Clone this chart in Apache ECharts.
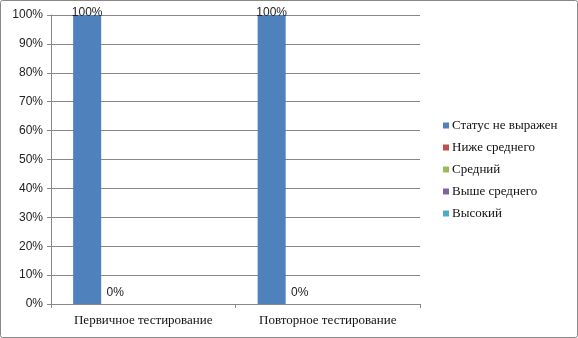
<!DOCTYPE html>
<html>
<head>
<meta charset="utf-8">
<script src="https://cdn.jsdelivr.net/npm/echarts@6/dist/echarts.min.js"></script>
<style>
html, body { margin: 0; padding: 0; background: #fff; }
#chart { width: 578px; height: 338px; }
</style>
</head>
<body>
<div id="chart"></div>
<script>
var categories = ['Первичное тестирование', 'Повторное тестирование'];
var seriesNames = ['Статус не выражен', 'Ниже среднего', 'Средний', 'Выше среднего', 'Высокий'];
var seriesColors = ['#4F81BD', '#C0504D', '#9BBB59', '#8064A2', '#4BACC6'];
var valStatus = [100, 100];
var valBelow = [0, 0];
var valMiddle = [0, 0];
var valAbove = [0, 0];
var valHigh = [0, 0];
var seriesValues = [valStatus, valBelow, valMiddle, valAbove, valHigh];
var showLabels = [true, true, false, false, false];

var chart = echarts.init(document.getElementById('chart'), null, { renderer: 'canvas' });

var series = seriesNames.map(function (name, i) {
    return {
        name: name,
        type: 'bar',
        data: seriesValues[i],
        barGap: '0%',
        barCategoryGap: '24%',
        itemStyle: { color: seriesColors[i] },
        label: {
            show: showLabels[i],
            position: 'top',
            distance: i === 0 ? -4 : 5,
            formatter: '{c}%',
            color: '#222',
            fontFamily: 'Liberation Sans, Arial',
            fontSize: 12
        }
    };
});

var option = {
    animation: false,
    graphic: [{
        type: 'rect',
        shape: { x: 0.5, y: 0.5, width: 577, height: 337, r: 2 },
        style: { fill: 'none', stroke: '#888', lineWidth: 1 }
    }],
    grid: { left: 51, right: 158, top: 15, bottom: 34 },
    legend: {
        orient: 'vertical',
        left: 438,
        top: 114,
        itemWidth: 6,
        itemHeight: 6,
        itemGap: 9,
        icon: 'rect',
        data: seriesNames,
        textStyle: { fontFamily: 'Liberation Serif, Times New Roman', fontSize: 13, color: '#111', padding: [0, 0, 0, -2] }
    },
    xAxis: {
        type: 'category',
        data: categories,
        axisLine: { lineStyle: { color: '#888' } },
        axisTick: { show: true, length: 4, lineStyle: { color: '#888' } },
        axisLabel: { fontFamily: 'Liberation Serif, Times New Roman', fontSize: 13, color: '#111', margin: 10 }
    },
    yAxis: {
        type: 'value',
        min: 0,
        max: 100,
        interval: 10,
        axisLine: { show: true, lineStyle: { color: '#888' } },
        axisTick: { show: true, length: 4, inside: false, lineStyle: { color: '#888' } },
        axisLabel: { formatter: '{value}%', fontFamily: 'Liberation Sans, Arial', fontSize: 12, color: '#222', margin: 8 },
        splitLine: { lineStyle: { color: '#888' } }
    },
    series: series
};

chart.setOption(option);
window.addEventListener('resize', chart.resize);
</script>
</body>
</html>
